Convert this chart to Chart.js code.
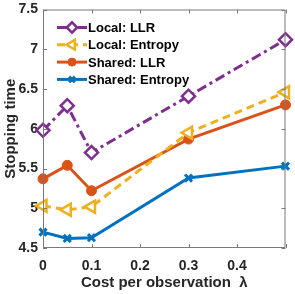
<!DOCTYPE html>
<html><head><meta charset="utf-8">
<script src="https://cdn.jsdelivr.net/npm/chart.js@4/dist/chart.umd.min.js"></script>
<style>html,body{margin:0;padding:0;background:#fff;}#wrap{width:295px;height:294px;}</style>
</head><body><div id="wrap"><canvas id="c" width="295" height="294"></canvas></div>
<script>
const costs = [0, 0.05, 0.1, 0.3, 0.5];
const localLLR = [5.98, 6.29, 5.70, 6.41, 7.12];
const localEntropy = [5.03, 4.98, 5.02, 5.95, 6.46];
const sharedLLR = [5.37, 5.54, 5.22, 5.87, 6.30];
const sharedEntropy = [4.70, 4.62, 4.63, 5.38, 5.53];
const yTicks = [4.5, 5, 5.5, 6, 6.5, 7, 7.5];
const xTicks = [0, 0.1, 0.2, 0.3, 0.4];
const seriesNames = ['Local: LLR', 'Local: Entropy', 'Shared: LLR', 'Shared: Entropy'];

const FONT = '"Liberation Sans", Arial, Helvetica, sans-serif';
function pts(vals){ return costs.map((x,i)=>({x:x,y:vals[i]})); }

const datasets = [
  {label:seriesNames[0], data:pts(localLLR), borderColor:'#7E2F8E', backgroundColor:'#ffffff',
   borderDash:[10,4,3,4], pointStyle:'rectRot', pointRadius:6.5, pointBorderWidth:2.5, borderWidth:3},
  {label:seriesNames[1], data:pts(localEntropy), borderColor:'#EDB120', backgroundColor:'#ffffff',
   borderDash:[8,5], pointStyle:'triangle', rotation:-90, pointRadius:7, pointBorderWidth:2.5, borderWidth:3},
  {label:seriesNames[2], data:pts(sharedLLR), borderColor:'#D95319', backgroundColor:'#D95319',
   borderDash:[], pointStyle:'circle', pointRadius:5, pointBorderWidth:1, borderWidth:3},
  {label:seriesNames[3], data:pts(sharedEntropy), borderColor:'#0072BD', backgroundColor:'#0072BD',
   borderDash:[], pointStyle:'crossRot', pointRadius:5, pointBorderWidth:3, borderWidth:3}
];
datasets.forEach(d=>{ d.pointBorderColor=d.borderColor; d.pointBackgroundColor=d.backgroundColor; d.tension=0; d.fill=false; d.clip=false; });

function drawMarker(ctx,d,x,y,scale){
  ctx.save();
  ctx.fillStyle=d.backgroundColor; ctx.strokeStyle=d.borderColor; ctx.lineWidth=d.pointBorderWidth;
  Chart.helpers.drawPoint(ctx,{pointStyle:d.pointStyle,rotation:d.rotation||0,radius:d.pointRadius*scale,borderWidth:d.pointBorderWidth},x,y);
  ctx.restore();
}

const framePlugin = {
  id:'frame',
  afterDatasetsDraw(chart){
    const ctx=chart.ctx, a=chart.chartArea, xs=chart.scales.x, ys=chart.scales.y;
    ctx.save();
    ctx.strokeStyle='#7a7a7a'; ctx.lineWidth=1;
    ctx.beginPath();
    ctx.rect(a.left+0.5, a.top+0.5, a.right-a.left-1, a.bottom-a.top-1);
    ctx.stroke();
    ctx.beginPath();
    const tl=4;
    [0,0.1,0.2,0.3,0.4,0.5].forEach(v=>{
      const px=Math.round(xs.getPixelForValue(v))+0.5;
      ctx.moveTo(px,a.bottom); ctx.lineTo(px,a.bottom-tl);
      ctx.moveTo(px,a.top); ctx.lineTo(px,a.top+tl);
    });
    yTicks.forEach(v=>{
      const py=Math.round(ys.getPixelForValue(v))+0.5;
      ctx.moveTo(a.left,py); ctx.lineTo(a.left+tl,py);
      ctx.moveTo(a.right,py); ctx.lineTo(a.right-tl,py);
    });
    ctx.stroke();
    ctx.restore();
  },
  afterDraw(chart){
    const ctx=chart.ctx, a=chart.chartArea;
    ctx.save();
    const x0=a.left+14, x1=a.left+44, y0=a.top+18, dy=17.3;
    chart.data.datasets.forEach((d,i)=>{
      const y=y0+i*dy;
      ctx.strokeStyle=d.borderColor; ctx.lineWidth=3; ctx.setLineDash(d.borderDash||[]);
      ctx.beginPath(); ctx.moveTo(x0,y); ctx.lineTo(x1,y); ctx.stroke();
      ctx.setLineDash([]);
      drawMarker(ctx,d,(x0+x1)/2,y,0.8);
      ctx.fillStyle='#000'; ctx.font='bold 13px '+FONT; ctx.textBaseline='middle'; ctx.textAlign='left';
      ctx.fillText(d.label,x1+1,y+1);
    });
    ctx.restore();
  }
};

new Chart(document.getElementById('c'),{
  type:'line',
  data:{datasets:datasets},
  options:{
    responsive:false, animation:false, devicePixelRatio:1,
    layout:{padding:{top:5,right:7,left:0,bottom:0}},
    plugins:{legend:{display:false}, tooltip:{enabled:false}},
    scales:{
      x:{type:'linear', min:0, max:0.5,
        afterBuildTicks(s){ s.ticks=[0,0.1,0.2,0.3,0.4,0.5].map(v=>({value:v})); },
        afterFit(s){ s.height=46; s.paddingLeft=0; s.paddingRight=0; },
        grid:{display:false, drawTicks:false}, border:{display:false},
        ticks:{color:'#262626', font:{family:FONT,size:14,weight:'bold'}, padding:10,
          maxRotation:0, callback:(v)=> xTicks.includes(Math.round(v*10)/10) ? String(Math.round(v*10)/10) : ''},
        title:{display:true, text:'Cost per observation  λ', color:'#262626', font:{family:FONT,size:15,weight:'bold'}, padding:{top:0,bottom:2}}
      },
      y:{type:'linear', min:4.5, max:7.5,
        afterBuildTicks(s){ s.ticks=yTicks.map(v=>({value:v})); },
        afterFit(s){ s.width=43; s.paddingTop=0; s.paddingBottom=0; },
        grid:{display:false, drawTicks:false}, border:{display:false},
        ticks:{color:'#262626', font:{family:FONT,size:14,weight:'bold'}, padding:5, callback:(v)=>String(v)},
        title:{display:true, text:'Stopping time', color:'#262626', font:{family:FONT,size:15,weight:'bold'}, padding:{top:2,bottom:0}}
      }
    }
  },
  plugins:[framePlugin]
});
</script></body></html>
